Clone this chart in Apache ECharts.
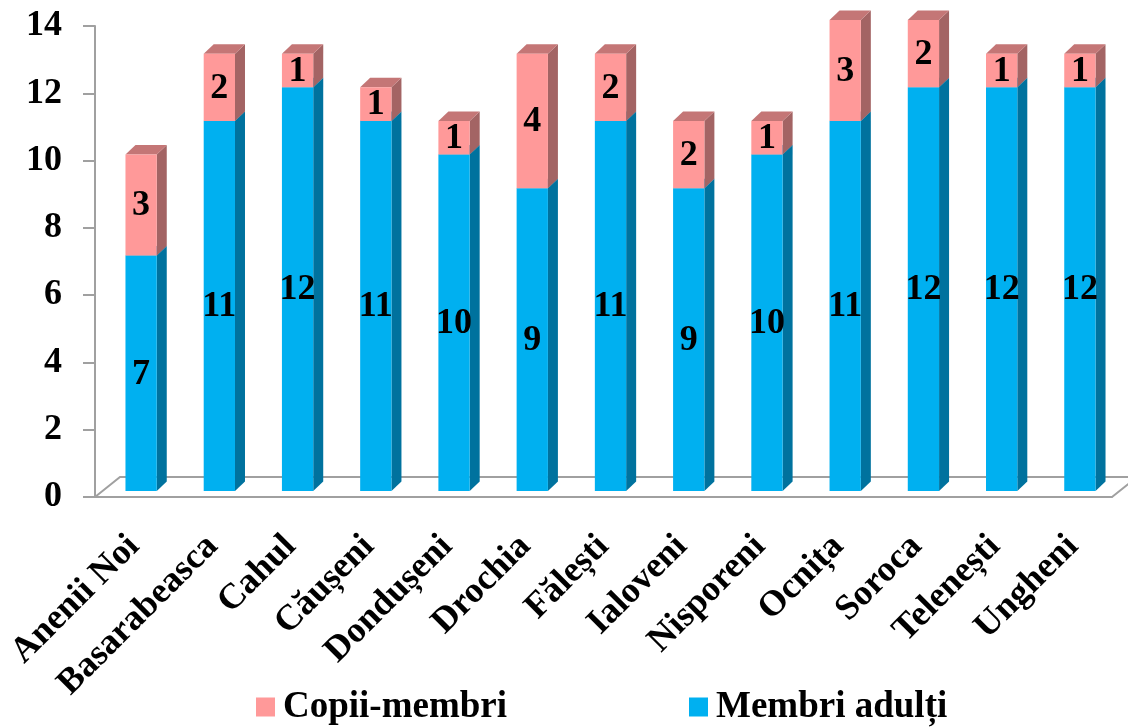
<!DOCTYPE html>
<html>
<head>
<meta charset="utf-8">
<script src="https://cdn.jsdelivr.net/npm/echarts@6/dist/echarts.min.js"></script>
<style>
html,body{margin:0;padding:0;background:#fff;}
#chart{width:1128px;height:728px;}
</style>
</head>
<body>
<div id="chart"></div>
<script>
const categories = ['Anenii Noi','Basarabeasca','Cahul','Căușeni','Dondușeni','Drochia','Fălești','Ialoveni','Nisporeni','Ocnița','Soroca','Telenești','Ungheni'];
const adults = [7,11,12,11,10,9,11,9,10,11,12,12,12];
const children = [3,2,1,1,1,4,2,2,1,3,2,1,1];
const yTicks = [0,2,4,6,8,10,12,14];

const FONT = '"Liberation Serif","Times New Roman",serif';
const AXIS_COLOR = '#A0A0A0';
const DX = 7, DY = 6;      // front face offset
const SX = 10, SY = 9.5;   // depth
const FX = 25, FY = 20;    // floor depth

const adultData = adults.map((v, i) => [i, 0, v, v]);
const childData = children.map((v, i) => [i, adults[i], adults[i] + v, v]);

function makeRender(front, side, top) {
  return function (params, api) {
    const idx = api.value(0);
    const cx = api.coord([idx, 0])[0];
    const yb = api.coord([idx, api.value(1)])[1] - DY;
    const yt = api.coord([idx, api.value(2)])[1] - DY;
    const bw = api.size([1, 0])[0] * 0.4;
    const xl = cx + DX - bw / 2, xr = xl + bw;
    return {
      type: 'group',
      children: [
        { type: 'polygon', shape: { points: [[xr, yb], [xr + SX, yb - SY], [xr + SX, yt - SY], [xr, yt]] }, style: { fill: side } },
        { type: 'polygon', shape: { points: [[xl, yt], [xl + SX, yt - SY], [xr + SX, yt - SY], [xr, yt]] }, style: { fill: top } },
        { type: 'rect', shape: { x: xl, y: yt, width: bw, height: yb - yt }, style: { fill: front } },
        { type: 'text', style: { text: String(api.value(3)), x: xl + bw / 2, y: (yt + yb) / 2 + 1, align: 'center', verticalAlign: 'middle', font: 'bold 36px ' + FONT, fill: '#000' } }
      ]
    };
  };
}

const chart = echarts.init(document.getElementById('chart'));
chart.setOption({
  animation: false,
  backgroundColor: '#fff',
  grid: { left: 95, right: 16, top: 26, bottom: 231, containLabel: false },
  legend: {
    data: ['Copii-membri', 'Membri adulți'],
    left: 256, top: 688, padding: 0,
    icon: 'rect', itemWidth: 19, itemHeight: 19, itemGap: 182,
    textStyle: { fontFamily: FONT, fontSize: 37, fontWeight: 'bold', color: '#000', lineHeight: 38, padding: [0, 0, 0, 3] }
  },
  xAxis: {
    type: 'category',
    data: categories,
    axisLine: { lineStyle: { color: AXIS_COLOR, width: 2 } },
    axisTick: { length: 13, lineStyle: { color: AXIS_COLOR, width: 2 } },
    axisLabel: { rotate: 45, margin: 44, interval: 0, fontFamily: FONT, fontSize: 36, fontWeight: 'bold', color: '#000' }
  },
  yAxis: {
    type: 'value',
    min: 0, max: 14, interval: 2,
    axisLine: { show: true, lineStyle: { color: AXIS_COLOR, width: 2 } },
    axisTick: { show: true, length: 12, lineStyle: { color: AXIS_COLOR, width: 2 } },
    splitLine: { show: false },
    axisLabel: { margin: 33, fontFamily: FONT, fontSize: 36, fontWeight: 'bold', color: '#000',
      formatter: v => yTicks.includes(v) ? String(v) : '' }
  },
  series: [
    {
      name: 'floor', type: 'custom', z: 1, silent: true,
      data: [[0]],
      renderItem: function (params, api) {
        const cs = params.coordSys;
        const x0 = cs.x, x1 = cs.x + cs.width, y0 = cs.y + cs.height;
        return { type: 'polyline', shape: { points: [[x0, y0], [x0 + FX, y0 - FY], [x1 + FX, y0 - FY], [x1, y0]] }, style: { stroke: AXIS_COLOR, lineWidth: 2, fill: null } };
      }
    },
    {
      name: 'Membri adulți', type: 'custom', z: 3,
      itemStyle: { color: '#00B0F0' },
      data: adultData,
      encode: { x: 0, y: 2 },
      renderItem: makeRender('#00B0F0', '#00729E', '#0090C4')
    },
    {
      name: 'Copii-membri', type: 'custom', z: 4,
      itemStyle: { color: '#FF9999' },
      data: childData,
      encode: { x: 0, y: 2 },
      renderItem: makeRender('#FF9999', '#A36464', '#C47676')
    }
  ]
});
</script>
</body>
</html>
